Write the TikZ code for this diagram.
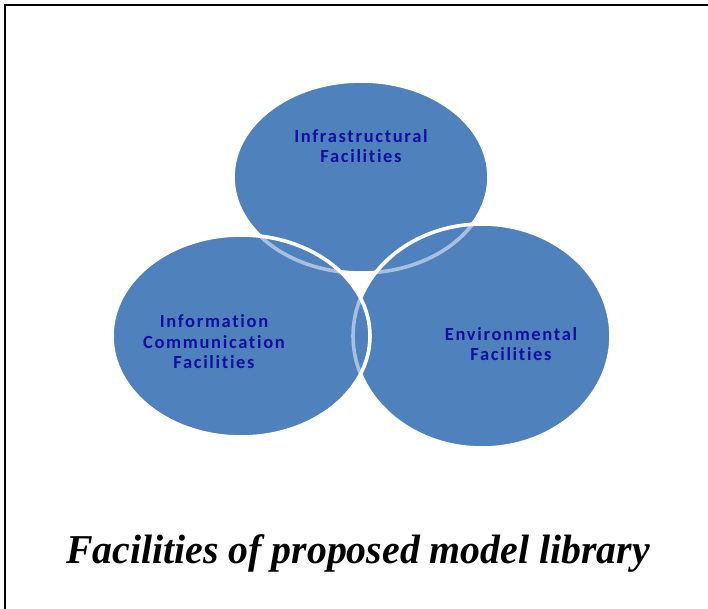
\documentclass[tikz,border=0pt]{standalone}
\usepackage{fontspec}
\newfontfamily\labelfont[LetterSpace=9,Ligatures=NoCommon]{Carlito}
\newfontfamily\captionfont{Liberation Serif}
\definecolor{vennblue}{HTML}{4F81BD}
\definecolor{labelblue}{RGB}{16,16,160}
\begin{document}
\begin{tikzpicture}[x=1pt,y=-1pt,
  topE/.style={insert path={(361,177) ellipse [x radius=128, y radius=96]}},
  leftE/.style={insert path={(241,336) ellipse [x radius=129, y radius=101]}},
  rightE/.style={insert path={(482,336) ellipse [x radius=129, y radius=112]}},
  disc/.style={fill=vennblue},
  ring/.style={draw=white, line width=3.6pt},
  faded ring/.style={draw=white, draw opacity=0.5, line width=3.6pt},
  circlabel/.style={font=\labelfont\bfseries\fontsize{18.5}{20.5}\selectfont, text=labelblue,
    align=center, inner sep=0pt},
  framestyle/.style={draw=black, line width=2pt}]
  \useasboundingbox (0,0) rectangle (708,609);

  % outer frame (top and left rules)
  \draw[framestyle] (708,5) -- (5,5) -- (5,609);

  % back circle: infrastructure
  \path[disc, topE];
  \path[ring, topE];
  % middle circle: environment
  \path[disc, rightE];
  \begin{scope}
    \path[clip, rightE];
    \path[faded ring, topE];
  \end{scope}
  \path[ring, rightE];
  % front circle: information / communication
  \path[disc, leftE];
  \begin{scope}
    \path[clip, leftE];
    \path[faded ring, topE];
    \path[faded ring, rightE];
  \end{scope}
  \path[ring, leftE];

  % circle labels
  \node[circlabel] (infra) at (361,146) {Infrastructural\\Facilities};
  \node[circlabel] (info) at (214,342) {Information\\Communication\\Facilities};
  \node[circlabel] (env) at (511,344) {Environmental\\Facilities};

  % caption
  \node[font=\captionfont\bfseries\itshape\fontsize{41}{48}\selectfont,
    anchor=base, inner sep=0pt] (caption) at (358,563)
    {\scalebox{0.97}[1]{Facilities of proposed model library}};
\end{tikzpicture}
\end{document}
